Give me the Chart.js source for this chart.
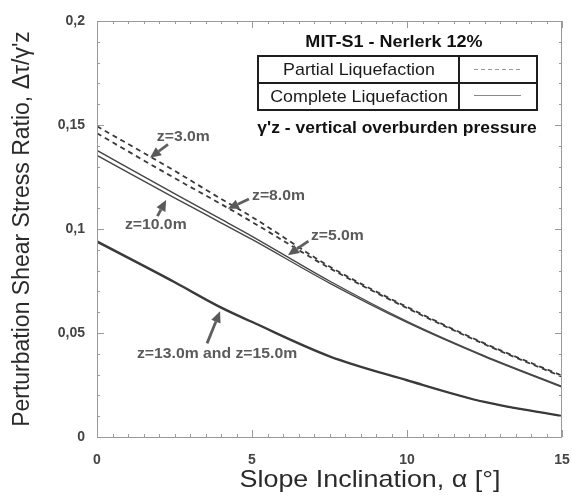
<!DOCTYPE html>
<html>
<head>
<meta charset="utf-8">
<script src="https://cdn.jsdelivr.net/npm/chart.js@4.4.1/dist/chart.umd.min.js"></script>
<style>
  html, body { margin: 0; padding: 0; background: #fff; }
  #wrap { width: 572px; height: 500px; }
</style>
</head>
<body>
<div id="wrap"><canvas id="c" width="572" height="500"></canvas></div>
<script>
// Slope inclination (degrees) at which each curve is sampled
const alpha = [0, 2.5, 4, 5, 7.5, 10, 12.5, 15];

// Perturbation shear stress ratio, partial liquefaction
const partialZ3 = [0.1494, 0.1280, 0.1145, 0.1058, 0.0820, 0.0625, 0.0450, 0.0295];
const partialZ8 = [0.1460, 0.1245, 0.1120, 0.1034, 0.0812, 0.0620, 0.0446, 0.0290];

// Perturbation shear stress ratio, complete liquefaction
const completeZ5  = [0.1378, 0.1170, 0.1047, 0.0965, 0.0750, 0.0556, 0.0390, 0.0243];
const completeZ10 = [0.1354, 0.1150, 0.1030, 0.0950, 0.0740, 0.0551, 0.0387, 0.0240];
const completeZ13 = [0.0942, 0.0747, 0.0625, 0.0555, 0.0390, 0.0275, 0.0170, 0.0102];
const completeZ15 = [0.0937, 0.0742, 0.0620, 0.0551, 0.0386, 0.0271, 0.0167, 0.0099];

// Axis tick labels
const xTicks = [0, 5, 10, 15];
const yTicks = [0, 0.05, 0.1, 0.15, 0.2];

// Depth labels with arrows: label anchor and arrow tail/tip in data units
const depthNotes = [
  { text: 'z=3.0m',  at: [1.93, 0.1441], from: [2.29, 0.1407], to: [1.71, 0.1342] },
  { text: 'z=8.0m',  at: [5.00, 0.1157], from: [4.90, 0.1144], to: [4.22, 0.1097] },
  { text: 'z=10.0m', at: [0.90, 0.1018], from: [1.95, 0.1062], to: [2.23, 0.1140] },
  { text: 'z=5.0m',  at: [6.90, 0.0969], from: [6.82, 0.0942], to: [6.16, 0.0874] },
  { text: 'z=13.0m and z=15.0m', at: [1.29, 0.0398], from: [3.55, 0.0450], to: [3.97, 0.0604] }
];

const FONT = '"Liberation Sans", Arial, Helvetica, sans-serif';
Chart.defaults.font.family = FONT;

const pts = ys => alpha.map((a, i) => ({ x: a, y: ys[i] }));
const dashed = { borderColor: '#3a3a3a', borderWidth: 1.8, borderDash: [5, 4] };
const solid = { borderColor: '#474747', borderWidth: 1.4 };
const lower = { borderColor: '#3a3a3a', borderWidth: 1.6 };

// text drawn with a slight horizontal widening
function wideText(ctx, text, x, y, font, align, stretch) {
  ctx.save();
  ctx.font = font;
  ctx.textAlign = align;
  ctx.textBaseline = 'middle';
  ctx.translate(x, y);
  ctx.scale(stretch, 1);
  ctx.fillText(text, 0, 0);
  ctx.restore();
}

function drawArrow(ctx, x1, y1, x2, y2) {
  const ang = Math.atan2(y2 - y1, x2 - x1);
  const head = 11, half = 5;
  const bx = x2 - head * Math.cos(ang), by = y2 - head * Math.sin(ang);
  ctx.beginPath();
  ctx.moveTo(x1, y1);
  ctx.lineTo(bx, by);
  ctx.stroke();
  ctx.beginPath();
  ctx.moveTo(x2, y2);
  ctx.lineTo(bx + half * Math.sin(ang), by - half * Math.cos(ang));
  ctx.lineTo(bx - half * Math.sin(ang), by + half * Math.cos(ang));
  ctx.closePath();
  ctx.fill();
}

const decor = {
  id: 'decor',
  afterDatasetsDraw(chart) {
    const { ctx, chartArea: a, scales: { x, y } } = chart;
    ctx.save();

    // plot frame
    ctx.strokeStyle = '#9a9a9a';
    ctx.lineWidth = 1;
    ctx.strokeRect(a.left + 0.5, a.top + 0.5, a.right - a.left - 1, a.bottom - a.top);

    // inward tick marks on all four sides
    ctx.beginPath();
    for (let i = 0; i <= 30; i++) {
      const px = Math.round(x.getPixelForValue(i * 0.5)) + 0.5;
      const len = i % 10 === 0 ? 7 : 3;
      ctx.moveTo(px, a.bottom); ctx.lineTo(px, a.bottom - len);
      ctx.moveTo(px, a.top); ctx.lineTo(px, a.top + len);
    }
    for (let i = 0; i <= 20; i++) {
      const py = Math.round(y.getPixelForValue(i * 0.01)) + 0.5;
      const len = i % 5 === 0 ? 7 : 3;
      ctx.moveTo(a.left, py); ctx.lineTo(a.left + len, py);
      ctx.moveTo(a.right, py); ctx.lineTo(a.right - len, py);
    }
    ctx.stroke();

    // legend table
    ctx.fillStyle = '#111';
    wideText(ctx, 'MIT-S1 - Nerlerk 12%', 394, 42, 'bold 17px ' + FONT, 'center', 1.06);

    ctx.strokeStyle = '#1e1e1e';
    ctx.lineWidth = 2;
    ctx.strokeRect(258, 56, 279, 54);
    ctx.beginPath();
    ctx.moveTo(258, 83); ctx.lineTo(537, 83);
    ctx.moveTo(459, 56); ctx.lineTo(459, 110);
    ctx.stroke();

    ctx.fillStyle = '#1a1a1a';
    wideText(ctx, 'Partial Liquefaction', 359, 70, '17px ' + FONT, 'center', 1.05);
    wideText(ctx, 'Complete Liquefaction', 359, 97, '17px ' + FONT, 'center', 1.05);

    ctx.lineWidth = 1;
    ctx.strokeStyle = '#9a9a9a';
    ctx.setLineDash([4, 3]);
    ctx.beginPath(); ctx.moveTo(474, 69.5); ctx.lineTo(521, 69.5); ctx.stroke();
    ctx.setLineDash([]);
    ctx.strokeStyle = '#8a8a8a';
    ctx.beginPath(); ctx.moveTo(474, 95.5); ctx.lineTo(521, 95.5); ctx.stroke();

    ctx.fillStyle = '#111';
    wideText(ctx, '\u03B3\'z - vertical overburden pressure', 397, 128, 'bold 16.5px ' + FONT, 'center', 1.06);

    // depth labels and arrows
    ctx.fillStyle = '#5a5a5a';
    ctx.strokeStyle = '#5f5f5f';
    ctx.lineWidth = 2.8;
    for (const n of depthNotes) {
      wideText(ctx, n.text, x.getPixelForValue(n.at[0]), y.getPixelForValue(n.at[1]),
        'bold 15px ' + FONT, 'left', 1.05);
      drawArrow(ctx,
        x.getPixelForValue(n.from[0]), y.getPixelForValue(n.from[1]),
        x.getPixelForValue(n.to[0]), y.getPixelForValue(n.to[1]));
    }

    // horizontal axis title
    ctx.fillStyle = '#2a2a2a';
    wideText(ctx, 'Slope Inclination, \u03B1 [\u00B0]', 370, 480, '24px ' + FONT, 'center', 1.12);

    ctx.restore();
  }
};

new Chart(document.getElementById('c'), {
  type: 'line',
  data: {
    datasets: [
      { label: 'z=3.0m',  data: pts(partialZ3),  ...dashed },
      { label: 'z=8.0m',  data: pts(partialZ8),  ...dashed },
      { label: 'z=5.0m',  data: pts(completeZ5), ...solid },
      { label: 'z=10.0m', data: pts(completeZ10), ...solid },
      { label: 'z=13.0m', data: pts(completeZ13), ...lower },
      { label: 'z=15.0m', data: pts(completeZ15), ...lower }
    ]
  },
  options: {
    responsive: false,
    animation: false,
    events: [],
    layout: { padding: { top: 21, right: 10, left: 0, bottom: 0 } },
    elements: {
      point: { radius: 0 },
      line: { cubicInterpolationMode: 'monotone', fill: false }
    },
    plugins: { legend: { display: false }, tooltip: { enabled: false } },
    scales: {
      x: {
        type: 'linear',
        min: 0, max: 15,
        grid: { display: false, drawTicks: false },
        border: { display: false },
        afterBuildTicks: s => { s.ticks = xTicks.map(v => ({ value: v })); },
        afterFit: s => { s.height = 63; s.paddingLeft = 0; s.paddingRight = 0; },
        ticks: {
          padding: 15,
          color: '#444',
          font: { size: 14, weight: 'bold' },
          maxRotation: 0,
          callback: v => String(v)
        }
      },
      y: {
        type: 'linear',
        min: 0, max: 0.2,
        grid: { display: false, drawTicks: false },
        border: { display: false },
        afterBuildTicks: s => { s.ticks = yTicks.map(v => ({ value: v })); },
        afterFit: s => { s.width = 97; s.paddingTop = 0; s.paddingBottom = 0; },
        ticks: {
          padding: 12,
          color: '#444',
          font: { size: 14, weight: 'bold' },
          callback: v => String(v).replace('.', ',')
        },
        title: {
          display: true,
          text: 'Perturbation Shear Stress Ratio, \u0394\u03C4/\u03B3\'z',
          color: '#2a2a2a',
          font: { size: 23, weight: 'normal' },
          padding: { top: 9, bottom: 0 }
        }
      }
    }
  },
  plugins: [decor]
});
</script>
</body>
</html>
